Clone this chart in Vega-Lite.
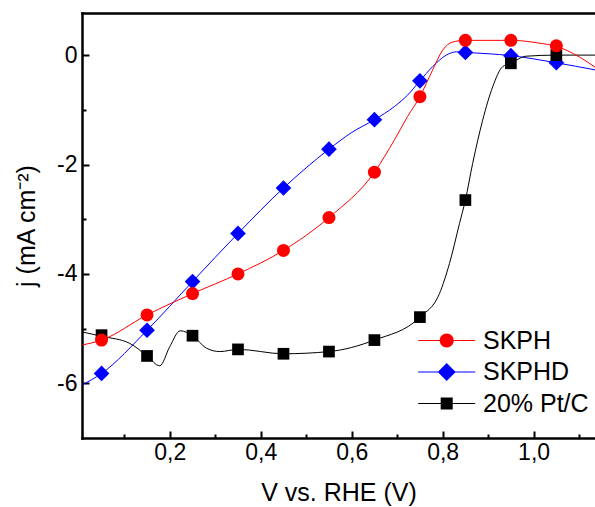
{
  "$schema": "https://vega.github.io/schema/vega-lite/v6.json",
  "width": 513,
  "height": 425,
  "autosize": "none",
  "padding": {"left": 82, "top": 13, "right": 0, "bottom": 69},
  "background": "white",
  "config": {
    "font": "Liberation Sans",
    "view": {"stroke": null},
    "axis": {
      "grid": false,
      "domainColor": "black",
      "tickColor": "black",
      "labelColor": "black",
      "titleColor": "black",
      "labelFont": "Liberation Sans",
      "titleFont": "Liberation Sans",
      "domainWidth": 2.5,
      "tickWidth": 2,
      "domainCap": "square"
    }
  },
  "datasets": {
    "lines": [
      {"series": "SKPH", "v": 0.007, "j": -5.3},
      {"series": "SKPH", "v": 0.05, "j": -5.21},
      {"series": "SKPH", "v": 0.15, "j": -4.75},
      {"series": "SKPH", "v": 0.25, "j": -4.36},
      {"series": "SKPH", "v": 0.35, "j": -4.0},
      {"series": "SKPH", "v": 0.45, "j": -3.57},
      {"series": "SKPH", "v": 0.55, "j": -2.97},
      {"series": "SKPH", "v": 0.65, "j": -2.14},
      {"series": "SKPH", "v": 0.694, "j": -1.55},
      {"series": "SKPH", "v": 0.723, "j": -1.12},
      {"series": "SKPH", "v": 0.75, "j": -0.76},
      {"series": "SKPH", "v": 0.778, "j": -0.27},
      {"series": "SKPH", "v": 0.8, "j": 0.09},
      {"series": "SKPH", "v": 0.822, "j": 0.24},
      {"series": "SKPH", "v": 0.85, "j": 0.27},
      {"series": "SKPH", "v": 0.95, "j": 0.27},
      {"series": "SKPH", "v": 1.012, "j": 0.22},
      {"series": "SKPH", "v": 1.05, "j": 0.16},
      {"series": "SKPH", "v": 1.1, "j": -0.03},
      {"series": "SKPH", "v": 1.135, "j": -0.22},
      {"series": "SKPHD", "v": 0.007, "j": -6.03},
      {"series": "SKPHD", "v": 0.05, "j": -5.82},
      {"series": "SKPHD", "v": 0.15, "j": -5.03},
      {"series": "SKPHD", "v": 0.25, "j": -4.14},
      {"series": "SKPHD", "v": 0.35, "j": -3.26},
      {"series": "SKPHD", "v": 0.45, "j": -2.43},
      {"series": "SKPHD", "v": 0.55, "j": -1.72},
      {"series": "SKPHD", "v": 0.599, "j": -1.42},
      {"series": "SKPHD", "v": 0.65, "j": -1.18},
      {"series": "SKPHD", "v": 0.694, "j": -0.94},
      {"series": "SKPHD", "v": 0.723, "j": -0.73},
      {"series": "SKPHD", "v": 0.75, "j": -0.47},
      {"series": "SKPHD", "v": 0.778, "j": -0.21},
      {"series": "SKPHD", "v": 0.808, "j": 0.0},
      {"series": "SKPHD", "v": 0.83, "j": 0.06},
      {"series": "SKPHD", "v": 0.85, "j": 0.05},
      {"series": "SKPHD", "v": 0.95, "j": -0.01},
      {"series": "SKPHD", "v": 1.05, "j": -0.14},
      {"series": "SKPHD", "v": 1.135, "j": -0.27},
      {"series": "20% Pt/C", "v": 0.007, "j": -5.06},
      {"series": "20% Pt/C", "v": 0.05, "j": -5.14},
      {"series": "20% Pt/C", "v": 0.112, "j": -5.27},
      {"series": "20% Pt/C", "v": 0.15, "j": -5.5},
      {"series": "20% Pt/C", "v": 0.178, "j": -5.68},
      {"series": "20% Pt/C", "v": 0.2, "j": -5.33},
      {"series": "20% Pt/C", "v": 0.223, "j": -5.04},
      {"series": "20% Pt/C", "v": 0.25, "j": -5.13},
      {"series": "20% Pt/C", "v": 0.281, "j": -5.36},
      {"series": "20% Pt/C", "v": 0.31, "j": -5.42},
      {"series": "20% Pt/C", "v": 0.35, "j": -5.38},
      {"series": "20% Pt/C", "v": 0.45, "j": -5.46},
      {"series": "20% Pt/C", "v": 0.55, "j": -5.42},
      {"series": "20% Pt/C", "v": 0.65, "j": -5.21},
      {"series": "20% Pt/C", "v": 0.75, "j": -4.79},
      {"series": "20% Pt/C", "v": 0.793, "j": -4.36},
      {"series": "20% Pt/C", "v": 0.815, "j": -3.81},
      {"series": "20% Pt/C", "v": 0.837, "j": -3.08},
      {"series": "20% Pt/C", "v": 0.85, "j": -2.65},
      {"series": "20% Pt/C", "v": 0.866, "j": -1.98},
      {"series": "20% Pt/C", "v": 0.888, "j": -1.19},
      {"series": "20% Pt/C", "v": 0.91, "j": -0.58},
      {"series": "20% Pt/C", "v": 0.932, "j": -0.21},
      {"series": "20% Pt/C", "v": 0.95, "j": -0.15},
      {"series": "20% Pt/C", "v": 0.983, "j": -0.02},
      {"series": "20% Pt/C", "v": 1.05, "j": 0.0},
      {"series": "20% Pt/C", "v": 1.135, "j": 0.0}
    ],
    "markers": [
      {"series": "SKPH", "v": 0.05, "j": -5.21},
      {"series": "SKPH", "v": 0.15, "j": -4.75},
      {"series": "SKPH", "v": 0.25, "j": -4.36},
      {"series": "SKPH", "v": 0.35, "j": -4.0},
      {"series": "SKPH", "v": 0.45, "j": -3.57},
      {"series": "SKPH", "v": 0.55, "j": -2.97},
      {"series": "SKPH", "v": 0.65, "j": -2.14},
      {"series": "SKPH", "v": 0.75, "j": -0.76},
      {"series": "SKPH", "v": 0.85, "j": 0.27},
      {"series": "SKPH", "v": 0.95, "j": 0.27},
      {"series": "SKPH", "v": 1.05, "j": 0.17},
      {"series": "SKPHD", "v": 0.05, "j": -5.82},
      {"series": "SKPHD", "v": 0.15, "j": -5.03},
      {"series": "SKPHD", "v": 0.25, "j": -4.14},
      {"series": "SKPHD", "v": 0.35, "j": -3.26},
      {"series": "SKPHD", "v": 0.45, "j": -2.43},
      {"series": "SKPHD", "v": 0.55, "j": -1.72},
      {"series": "SKPHD", "v": 0.65, "j": -1.18},
      {"series": "SKPHD", "v": 0.75, "j": -0.47},
      {"series": "SKPHD", "v": 0.85, "j": 0.05},
      {"series": "SKPHD", "v": 0.95, "j": -0.01},
      {"series": "SKPHD", "v": 1.05, "j": -0.14},
      {"series": "20% Pt/C", "v": 0.05, "j": -5.12},
      {"series": "20% Pt/C", "v": 0.15, "j": -5.5},
      {"series": "20% Pt/C", "v": 0.25, "j": -5.13},
      {"series": "20% Pt/C", "v": 0.35, "j": -5.38},
      {"series": "20% Pt/C", "v": 0.45, "j": -5.46},
      {"series": "20% Pt/C", "v": 0.55, "j": -5.42},
      {"series": "20% Pt/C", "v": 0.65, "j": -5.21},
      {"series": "20% Pt/C", "v": 0.75, "j": -4.79},
      {"series": "20% Pt/C", "v": 0.85, "j": -2.65},
      {"series": "20% Pt/C", "v": 0.95, "j": -0.15},
      {"series": "20% Pt/C", "v": 1.05, "j": 0.0}
    ]
  },
  "resolve": {"axis": {"x": "independent", "y": "independent"}},
  "layer": [
    {
      "data": {"name": "lines"},
      "transform": [{"filter": "datum.series == 'SKPHD'"}],
      "mark": {"type": "line", "strokeWidth": 1, "interpolate": "monotone", "clip": true, "color": "#0000ff"},
      "encoding": {
        "x": {
          "field": "v", "type": "quantitative",
          "scale": {"domain": [0.007, 1.135], "nice": false, "zero": false},
          "axis": {
            "orient": "bottom",
            "values": [0.2, 0.4, 0.6, 0.8, 1.0],
            "tickSize": -7,
            "labelFontSize": 23,
            "labelPadding": 10,
            "labelExpr": "replace(format(datum.value, '.1f'), '.', ',')",
            "title": "V vs. RHE (V)",
            "titleFontSize": 25,
            "titleFontWeight": "normal",
            "titlePadding": 16
          }
        },
        "y": {
          "field": "j", "type": "quantitative",
          "scale": {"domain": [-7, 0.77], "nice": false, "zero": false},
          "axis": {
            "orient": "left",
            "values": [0, -2, -4, -6],
            "tickSize": -7,
            "labelFontSize": 23,
            "labelPadding": 12,
            "labelExpr": "'' + datum.value",
            "title": "j (mA cm⁻²)",
            "titleFontSize": 25,
            "titleFontWeight": "normal",
            "titlePadding": 17
          }
        }
      }
    },
    {
      "data": {"name": "lines"},
      "transform": [{"filter": "datum.series == '20% Pt/C'"}],
      "mark": {"type": "line", "strokeWidth": 1, "interpolate": "monotone", "clip": true, "color": "#000000"},
      "encoding": {
        "x": {
          "field": "v", "type": "quantitative",
          "axis": {"orient": "bottom", "values": [0.1, 0.3, 0.5, 0.7, 0.9, 1.1], "tickSize": -4, "labels": false, "domain": false, "title": null}
        },
        "y": {
          "field": "j", "type": "quantitative",
          "axis": {"orient": "left", "values": [-1, -3, -5], "tickSize": -4, "labels": false, "domain": false, "title": null}
        }
      }
    },
    {
      "data": {"name": "lines"},
      "transform": [{"filter": "datum.series == 'SKPH'"}],
      "mark": {"type": "line", "strokeWidth": 1, "interpolate": "monotone", "clip": true, "color": "#ff0000"},
      "encoding": {
        "x": {
          "field": "v", "type": "quantitative",
          "axis": {"orient": "top", "ticks": false, "labels": false, "domain": true, "title": null}
        },
        "y": {"field": "j", "type": "quantitative", "axis": null}
      }
    },
    {
      "data": {"name": "markers"},
      "transform": [{"filter": "datum.series == 'SKPHD'"}],
      "mark": {"type": "point", "shape": "diamond", "filled": true, "size": 246, "color": "#0000ff", "opacity": 1},
      "encoding": {
        "x": {"field": "v", "type": "quantitative", "axis": null},
        "y": {"field": "j", "type": "quantitative", "axis": null}
      }
    },
    {
      "data": {"name": "markers"},
      "transform": [{"filter": "datum.series == '20% Pt/C'"}],
      "mark": {"type": "point", "shape": "square", "filled": true, "size": 137, "color": "#000000", "opacity": 1},
      "encoding": {
        "x": {"field": "v", "type": "quantitative", "axis": null},
        "y": {"field": "j", "type": "quantitative", "axis": null}
      }
    },
    {
      "data": {"name": "markers"},
      "transform": [{"filter": "datum.series == 'SKPH'"}],
      "mark": {"type": "point", "shape": "circle", "filled": true, "size": 169, "color": "#ff0000", "opacity": 1},
      "encoding": {
        "x": {"field": "v", "type": "quantitative", "axis": null},
        "y": {"field": "j", "type": "quantitative", "axis": null}
      }
    },
    {
      "data": {"name": "markers"},
      "transform": [{"filter": "datum.v > 5"}],
      "mark": {"type": "point", "filled": true},
      "encoding": {
        "x": {"field": "v", "type": "quantitative", "axis": null},
        "y": {"field": "j", "type": "quantitative", "axis": null},
        "color": {
          "field": "series", "type": "nominal",
          "scale": {"domain": ["SKPH", "SKPHD", "20% Pt/C"], "range": ["#ff0000", "#0000ff", "#000000"]},
          "legend": {
            "orient": "none", "legendX": 336, "legendY": 315, "title": null,
            "labelFontSize": 25, "labelFont": "Liberation Sans", "labelColor": "black",
            "symbolSize": 256, "symbolStrokeWidth": 0, "symbolOffset": 16.2, "labelOffset": 23.8,
            "rowPadding": 5.5, "padding": 0, "symbolOpacity": 1
          }
        },
        "shape": {
          "field": "series", "type": "nominal",
          "scale": {
            "domain": ["SKPH", "SKPHD", "20% Pt/C"],
            "range": [
              "M-3.56,-0.07L3.56,-0.07L3.56,0.07L-3.56,0.07ZM0.875,0A0.875,0.875,0,1,1,-0.875,0A0.875,0.875,0,1,1,0.875,0Z",
              "M-3.56,-0.07L3.56,-0.07L3.56,0.07L-3.56,0.07ZM0,-1.125L1.125,0L0,1.125L-1.125,0Z",
              "M-3.56,-0.07L3.56,-0.07L3.56,0.07L-3.56,0.07ZM-0.75,-0.75L0.75,-0.75L0.75,0.75L-0.75,0.75Z"
            ]
          },
          "legend": {
            "orient": "none", "legendX": 336, "legendY": 315, "title": null,
            "labelFontSize": 25, "labelFont": "Liberation Sans", "labelColor": "black",
            "symbolSize": 256, "symbolStrokeWidth": 0, "symbolOffset": 16.2, "labelOffset": 23.8,
            "rowPadding": 5.5, "padding": 0, "symbolOpacity": 1
          }
        }
      }
    }
  ]
}
